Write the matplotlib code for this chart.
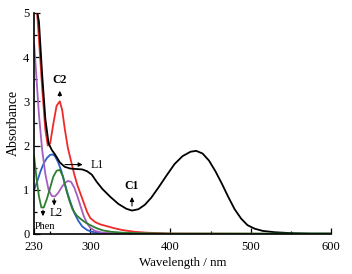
import numpy as np
import matplotlib
matplotlib.use("Agg")
from matplotlib import pyplot as plt
from matplotlib.ticker import MultipleLocator

plt.rcParams['font.family'] = ['Liberation Serif', 'DejaVu Serif']

# C1 (black)
c1_wl = [230, 233, 236, 240, 244, 248, 252, 256, 262, 268, 275, 282, 290, 296, 302, 308, 315, 325, 335, 345,
         352, 360, 368, 376, 385, 395, 405, 415, 425, 432, 440, 448, 456, 464, 472, 480, 488, 496, 505, 515,
         530, 550, 575, 600]
c1_abs = [5.6, 5.1, 4.8, 3.6, 2.6, 2.05, 1.9, 1.8, 1.62, 1.52, 1.48, 1.47, 1.46, 1.42, 1.34, 1.18, 1.02, 0.84, 0.68, 0.57,
          0.53, 0.56, 0.66, 0.82, 1.05, 1.32, 1.58, 1.76, 1.86, 1.88, 1.82, 1.66, 1.42, 1.14, 0.84, 0.56, 0.35, 0.2, 0.12, 0.07,
          0.04, 0.02, 0.01, 0.01]

# C2 (red)
c2_wl = [230, 233, 236, 240, 244, 247, 250, 254, 258, 262, 265, 268, 272, 276, 280, 284, 288, 292, 296, 300,
         306, 312, 320, 330, 340, 355, 370, 400, 600]
c2_abs = [5.6, 5.2, 4.4, 3.3, 2.35, 2.0, 2.05, 2.5, 2.9, 3.0, 2.8, 2.4, 1.95, 1.65, 1.35, 1.1, 0.9, 0.7, 0.5, 0.36,
          0.27, 0.22, 0.18, 0.13, 0.09, 0.05, 0.03, 0.01, 0.0]

# L1 (blue)
l1_wl = [230, 234, 238, 242, 246, 250, 253, 256, 260, 264, 268, 272, 276, 280, 285, 290, 296, 302, 310, 320, 340, 600]
l1_abs = [1.0, 1.2, 1.42, 1.6, 1.72, 1.79, 1.8, 1.76, 1.62, 1.42, 1.15, 0.9, 0.68, 0.48, 0.3, 0.17, 0.09, 0.05, 0.03, 0.01, 0.0, 0.0]

# L2 (purple)
l2_wl = [230, 233, 236, 240, 244, 248, 252, 256, 260, 264, 268, 272, 276, 280, 284, 288, 292, 296, 300, 306, 315, 330, 360, 600]
l2_abs = [4.3, 3.5, 2.7, 1.9, 1.35, 1.0, 0.86, 0.85, 0.93, 1.05, 1.15, 1.2, 1.18, 1.05, 0.85, 0.62, 0.4, 0.24, 0.14, 0.07, 0.03, 0.01, 0.0, 0.0]

# Phen (green)
ph_wl = [230, 233, 236, 239, 242, 246, 250, 254, 258, 262, 266, 270, 274, 278, 283, 288, 294, 300, 308, 316, 326, 340, 360, 400, 600]
ph_abs = [1.75, 1.25, 0.85, 0.6, 0.6, 0.8, 1.05, 1.3, 1.43, 1.45, 1.3, 1.0, 0.75, 0.55, 0.42, 0.34, 0.26, 0.2, 0.13, 0.08, 0.05, 0.03, 0.02, 0.01, 0.01]

fig = plt.figure(figsize=(3.52, 2.74), dpi=100)
ax = fig.add_axes([0.097, 0.146, 0.843, 0.807])

lw = 1.3
ax.plot(l1_wl, l1_abs, color='#2b5fc4', lw=lw)
ax.plot(l2_wl, l2_abs, color='#a65ec2', lw=lw)
ax.plot(c2_wl, c2_abs, color='#ee2a2a', lw=lw)
ax.plot(c1_wl, c1_abs, color='black', lw=lw)
ax.plot(ph_wl, ph_abs, color='#2e7d32', lw=lw)

ax.set_xlim(230, 600)
ax.set_ylim(0, 5)
ax.set_xticks([230, 300, 400, 500, 600])
ax.xaxis.set_minor_locator(MultipleLocator(50))
ax.yaxis.set_major_locator(MultipleLocator(1))
ax.yaxis.set_minor_locator(MultipleLocator(0.5))
ax.tick_params(which='both', direction='in', labelsize=9, width=0.9)
ax.tick_params(which='major', length=4)
ax.tick_params(which='minor', length=2.5)
ax.tick_params(axis='x', which='major', pad=5)
for s in ['top', 'right']:
    ax.spines[s].set_visible(False)
ax.spines['left'].set_linewidth(1.2)
ax.spines['bottom'].set_linewidth(1.2)

ax.set_xlabel('Wavelength / nm', fontsize=9.3, labelpad=3)
ax.set_ylabel('Absorbance', fontsize=10, labelpad=2)

ap = dict(arrowstyle='-|>', color='black', lw=0.8, mutation_scale=6)
ax.annotate('', xy=(262, 3.3), xytext=(262, 3.05), arrowprops=ap)
ax.text(262, 3.35, 'C2', fontsize=8.5, fontweight='bold', ha='center', va='bottom')
ax.annotate('', xy=(352, 0.9), xytext=(352, 0.57), arrowprops=ap)
ax.text(352, 0.95, 'C1', fontsize=8.5, fontweight='bold', ha='center', va='bottom')
ax.annotate('', xy=(294, 1.57), xytext=(265, 1.57), arrowprops=ap)
ax.text(300, 1.57, 'L1', fontsize=8.5, ha='left', va='center')
ax.annotate('', xy=(255, 0.58), xytext=(255, 0.86), arrowprops=ap)
ax.text(257, 0.47, 'L2', fontsize=8.5, ha='center', va='center')
ax.annotate('', xy=(241, 0.34), xytext=(241, 0.6), arrowprops=ap)
ax.text(244, 0.17, 'Phen', fontsize=7.5, ha='center', va='center')

fig.savefig('out.png', dpi=100)
